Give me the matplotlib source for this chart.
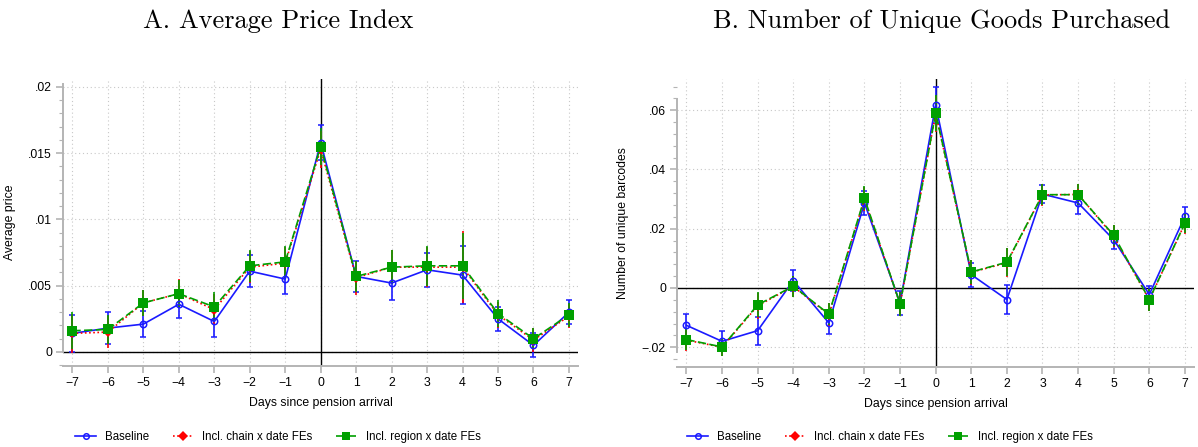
import matplotlib
matplotlib.use("Agg")
import matplotlib.pyplot as plt
from matplotlib.ticker import FuncFormatter, AutoMinorLocator, FixedLocator
from matplotlib.lines import Line2D

plt.rcParams['font.family'] = ['Liberation Sans', 'DejaVu Sans']

days = list(range(-7, 8))

# panel A: average price index (estimates and CI half-widths)
price_base = [0.0014, 0.0018, 0.0021, 0.0036, 0.0023, 0.0061, 0.0055, 0.0158,
              0.0057, 0.0052, 0.0062, 0.0058, 0.0025, 0.0005, 0.0030]
price_base_err = [0.0014, 0.0012, 0.0010, 0.0010, 0.0012, 0.0012, 0.0011, 0.0013,
                  0.0012, 0.0013, 0.0013, 0.0022, 0.0009, 0.0009, 0.0009]
price_chain = [0.0014, 0.0015, 0.0037, 0.0044, 0.0032, 0.0064, 0.0067, 0.0153,
               0.0056, 0.0064, 0.0064, 0.0064, 0.0028, 0.0009, 0.0027]
price_chain_err = [0.0015, 0.0012, 0.0010, 0.0011, 0.0012, 0.0012, 0.0012, 0.0014,
                   0.0013, 0.0013, 0.0015, 0.0027, 0.0010, 0.0009, 0.0009]
price_region = [0.0016, 0.0017, 0.0037, 0.0044, 0.0034, 0.0065, 0.0068, 0.0155,
                0.0057, 0.0064, 0.0065, 0.0065, 0.0029, 0.0010, 0.0028]
price_region_err = [0.0014, 0.0011, 0.0010, 0.0010, 0.0011, 0.0012, 0.0012, 0.0014,
                    0.0012, 0.0013, 0.0015, 0.0025, 0.0010, 0.0008, 0.0009]

# panel B: number of unique barcodes
goods_base = [-0.0126, -0.0180, -0.0144, 0.0025, -0.0118, 0.0287, -0.0051, 0.0618,
              0.0045, -0.0039, 0.0317, 0.0287, 0.0163, -0.0022, 0.0242]
goods_base_err = [0.0038, 0.0034, 0.0047, 0.0036, 0.0036, 0.0040, 0.0040, 0.0060,
                  0.0040, 0.0050, 0.0030, 0.0037, 0.0030, 0.0030, 0.0033]
goods_chain = [-0.0176, -0.0200, -0.0060, 0.0005, -0.0090, 0.0300, -0.0055, 0.0588,
               0.0053, 0.0085, 0.0314, 0.0316, 0.0175, -0.0040, 0.0218]
goods_chain_err = [0.0036, 0.0031, 0.0043, 0.0036, 0.0038, 0.0041, 0.0041, 0.0061,
                   0.0043, 0.0049, 0.0036, 0.0036, 0.0036, 0.0038, 0.0036]
goods_region = [-0.0174, -0.0199, -0.0057, 0.0006, -0.0088, 0.0303, -0.0054, 0.0590,
                0.0054, 0.0087, 0.0315, 0.0315, 0.0178, -0.0039, 0.0219]
goods_region_err = [0.0035, 0.0030, 0.0042, 0.0035, 0.0037, 0.0040, 0.0040, 0.0060,
                    0.0042, 0.0048, 0.0035, 0.0035, 0.0035, 0.0037, 0.0035]

labels = ["Baseline", "Incl. chain x date FEs", "Incl. region x date FEs"]
BLUE, RED, GREEN = "#1a1aff", "#ff0000", "#00a000"
GRID = "#c8c8c8"
SPINE = "#b4b4b4"


def ytick_fmt(v, pos):
    # Stata-style labels: drop the leading zero, use a real minus sign
    if abs(v) < 1e-12:
        return "0"
    s = ("%.3f" % abs(v)).rstrip("0")
    s = s[1:] if s.startswith("0") else s
    return ("\u2212" if v < 0 else "") + s


def xtick_fmt(v, pos):
    return ("\u2212%d" % -v) if v < 0 else "%d" % v


def draw_panel(ax, series, ylim, yticks, ybounds, ylabel):
    ax.set_xlim(-7.265, 7.255)
    ax.set_ylim(*ylim)
    for v in days:
        ax.axvline(v, color=GRID, lw=0.8, ls=(0, (1, 2.5)), zorder=0)
    for v in yticks:
        ax.axhline(v, color=GRID, lw=0.8, ls=(0, (1, 2.5)), zorder=0)
    ax.axhline(0, color="black", lw=1.0, zorder=1)
    ax.axvline(0, color="black", lw=1.0, zorder=1)

    styles = [
        dict(color=BLUE, ls="-", marker="o", ms=4.6, mfc="none", mew=1.1),
        dict(color=RED, ls=(0, (1, 1.5)), marker="D", ms=5, mfc=RED, mew=0),
        dict(color=GREEN, ls=(0, (5, 2)), marker="s", ms=7, mfc=GREEN, mew=0),
    ]
    for (vals, errs), st in zip(series, styles):
        ax.errorbar(days, vals, yerr=errs, color=st["color"], ls=st["ls"], lw=1.2,
                    marker=st["marker"], ms=st["ms"], mfc=st["mfc"], mec=st["color"],
                    mew=st["mew"], ecolor=st["color"], elinewidth=1.2, capsize=2.5,
                    capthick=1.2, zorder=3)

    for side in ("top", "right"):
        ax.spines[side].set_visible(False)
    ax.spines["left"].set_bounds(*ybounds)
    for side in ("left", "bottom"):
        ax.spines[side].set_color(SPINE)
        ax.spines[side].set_linewidth(1.4)

    ax.set_xticks(days)
    ax.xaxis.set_major_formatter(FuncFormatter(xtick_fmt))
    ax.yaxis.set_major_locator(FixedLocator(yticks))
    ax.yaxis.set_major_formatter(FuncFormatter(ytick_fmt))
    ax.yaxis.set_minor_locator(AutoMinorLocator(5))
    ax.tick_params(axis="both", which="major", length=5, width=1.2, color=SPINE,
                   labelsize=8.8, pad=3)
    ax.tick_params(axis="y", which="minor", length=3, width=0.8, color=SPINE)
    ax.set_xlabel("Days since pension arrival", fontsize=8.8, labelpad=6)
    ax.set_ylabel(ylabel, fontsize=8.8, labelpad=9)


fig = plt.figure(figsize=(11.98, 4.47), dpi=100)
ax1 = fig.add_axes([63 / 1198, 81 / 447, 515 / 1198, 287 / 447])
ax2 = fig.add_axes([677 / 1198, 80 / 447, 517 / 1198, 288 / 447])

draw_panel(ax1,
           [(price_base, price_base_err), (price_chain, price_chain_err),
            (price_region, price_region_err)],
           (-0.00106, 0.0206), [0, 0.005, 0.01, 0.015, 0.02], (0, 0.0202),
           "Average price")
draw_panel(ax2,
           [(goods_base, goods_base_err), (goods_chain, goods_chain_err),
            (goods_region, goods_region_err)],
           (-0.02667, 0.07055), [-0.02, 0, 0.02, 0.04, 0.06], (-0.0215, 0.0637),
           "Number of unique barcodes")

fig.text(278 / 1198, 1 - 21 / 447, "A. Average Price Index", family="cmr10",
         fontsize=19, ha="center", va="center")
fig.text(942 / 1198, 1 - 21 / 447, "B. Number of Unique Goods Purchased",
         family="cmr10", fontsize=19, ha="center", va="center")

handles = [
    Line2D([], [], color=BLUE, ls="-", lw=1.2, marker="o", ms=4, mfc="none", mew=1.1),
    Line2D([], [], color=RED, ls=(0, (1, 1.5)), lw=1.2, marker="D", ms=5, mfc=RED, mew=0),
    Line2D([], [], color=GREEN, ls=(0, (5, 2)), lw=1.2, marker="s", ms=6, mfc=GREEN, mew=0),
]
for cx in (278, 890):
    fig.legend(handles, labels, loc="center", bbox_to_anchor=(cx / 1198, 1 - 437 / 447),
               ncol=3, frameon=False, fontsize=8.3, handlelength=1.8,
               columnspacing=2.0, handletextpad=0.8)

fig.savefig("out.png", dpi=100)
